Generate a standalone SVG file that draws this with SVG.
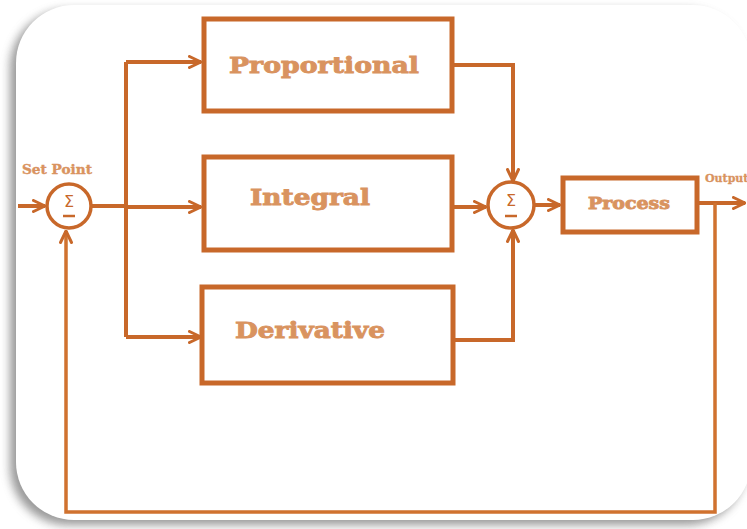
<svg xmlns="http://www.w3.org/2000/svg" width="747" height="529" viewBox="0 0 747 529">
<defs>
<filter id="sh" x="-10%" y="-10%" width="120%" height="120%">
<feGaussianBlur stdDeviation="5"/>
</filter>
<marker id="ar" viewBox="0 0 14 14" refX="13" refY="7" markerWidth="14" markerHeight="14" markerUnits="userSpaceOnUse" orient="auto">
<path d="M1.5,1.5 L13,7 L1.5,12.5" fill="none" stroke="#C8682A" stroke-width="3" stroke-linecap="round" stroke-linejoin="round"/>
</marker>
</defs>
<style>
.box{fill:#fff;stroke:#C8682A;stroke-width:5}
.sum{fill:#fff;stroke:#C8682A;stroke-width:3.5}
.ln{fill:none;stroke:#C8682A;stroke-width:4;stroke-linejoin:miter}
.fb{fill:none;stroke:#D0722F;stroke-width:3.5}
.lbl{font-family:"DejaVu Serif","Liberation Serif",serif;font-weight:bold;fill:#D9935F;stroke:#D9935F;stroke-width:0.9;text-anchor:middle}
.sig{font-family:"DejaVu Sans","Liberation Sans",sans-serif;fill:#C8682A;text-anchor:middle}
</style>
<rect width="747" height="529" fill="#ffffff"/>
<rect x="10" y="10" width="735" height="515" rx="58" fill="#6e6e6e" filter="url(#sh)" opacity="0.7"/>
<rect x="16" y="5" width="735" height="515" rx="58" fill="#ffffff"/>
<g id="connectors">
<path class="ln" d="M91,206 H126"/>
<path class="ln" d="M126,62 V337"/>
<path class="ln" d="M126,62 H201" marker-end="url(#ar)"/>
<path class="ln" d="M126,207 H201" marker-end="url(#ar)"/>
<path class="ln" d="M126,337 H201" marker-end="url(#ar)"/>
<path class="ln" d="M454,65 H513 V181" marker-end="url(#ar)"/>
<path class="ln" d="M454,207 H486" marker-end="url(#ar)" stroke="#D98A55"/>
<path class="ln" d="M454,340 H513 V230" marker-end="url(#ar)"/>
<path class="ln" d="M534,205 H560" marker-end="url(#ar)"/>
<path class="ln" d="M698,203 H745" marker-end="url(#ar)"/>
<path class="ln" d="M18,206 H45" marker-end="url(#ar)"/>
<path class="fb" d="M715,203 V512 H66 V231" marker-end="url(#ar)"/>
</g>
<g id="sum1">
<circle class="sum" cx="69" cy="206" r="22"/>
<text class="sig" x="69" y="207" font-size="16">Σ</text>
<line x1="63" y1="216" x2="75" y2="216" stroke="#C8682A" stroke-width="2.5"/>
</g>
<g id="sum2">
<circle class="sum" cx="511" cy="205" r="23"/>
<text class="sig" x="511" y="206" font-size="16">Σ</text>
<line x1="505" y1="216" x2="517" y2="216" stroke="#C8682A" stroke-width="2.5"/>
</g>
<g id="proportional">
<rect class="box" x="204" y="19" width="248" height="92"/>
<text class="lbl" x="324" y="73" font-size="23" textLength="190" lengthAdjust="spacingAndGlyphs">Proportional</text>
</g>
<g id="integral">
<rect class="box" x="204" y="157" width="248" height="93"/>
<text class="lbl" x="310" y="205" font-size="23" textLength="120" lengthAdjust="spacingAndGlyphs">Integral</text>
</g>
<g id="derivative">
<rect class="box" x="202" y="287" width="251" height="96"/>
<text class="lbl" x="310" y="338" font-size="23" textLength="150" lengthAdjust="spacingAndGlyphs">Derivative</text>
</g>
<g id="process">
<rect class="box" x="563" y="178" width="134" height="54"/>
<text class="lbl" x="629" y="209" font-size="17" textLength="82" lengthAdjust="spacingAndGlyphs">Process</text>
</g>
<g id="labels">
<text class="lbl" x="57" y="174" font-size="13" textLength="70" lengthAdjust="spacingAndGlyphs" style="stroke-width:0.4">Set Point</text>
<text class="lbl" x="705" y="182" font-size="11" style="text-anchor:start;stroke-width:0.3">Output</text>
</g>
</svg>
